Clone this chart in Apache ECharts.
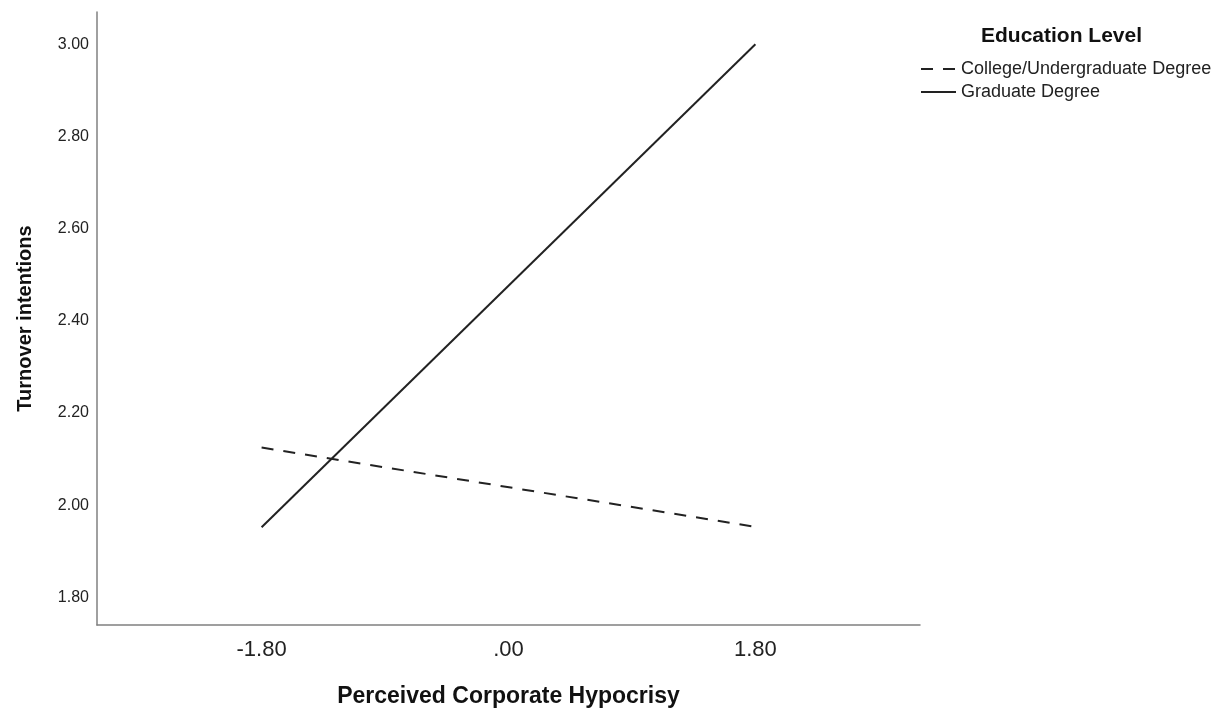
<!DOCTYPE html>
<html>
<head>
<meta charset="utf-8">
<title>Turnover intentions</title>
<script src="https://cdn.jsdelivr.net/npm/echarts@6/dist/echarts.min.js"></script>
<style>
	html, body { margin: 0; padding: 0; background: #fff; }
	#chart { width: 1224px; height: 710px; }
</style>
</head>
<body>
<div id="chart"></div>
<script>
// x positions (perceived corporate hypocrisy, -1 SD / mean / +1 SD)
var xTicks = [-1.8, 0, 1.8];
var xTickLabels = ['-1.80', '.00', '1.80'];
var yTicks = [1.8, 2.0, 2.2, 2.4, 2.6, 2.8, 3.0];

var lineX = [-1.8, 1.8];
var collegeVals = [2.125, 1.953]; // College/Undergraduate Degree
var graduateVals = [1.952, 3.0]; // Graduate Degree

var FONT = 'Liberation Sans, Arial, sans-serif';

function pairs(xs, ys) {
	var out = [];
	for (var i = 0; i < xs.length; i++) {
		out.push([xs[i], ys[i]]);
	}
	return out;
}

var chart = echarts.init(document.getElementById('chart'));
var option = {
	animation: false,
	backgroundColor: '#fff',
	title: {
		text: 'Education Level',
		left: 976,
		top: 21,
		textStyle: { fontFamily: FONT, fontSize: 21, fontWeight: 'bold', color: '#111' }
	},
	legend: {
		orient: 'vertical',
		left: 915,
		top: 55,
		itemWidth: 35,
		itemHeight: 14,
		itemGap: 5,
		itemStyle: { opacity: 0 },
		textStyle: { fontFamily: FONT, fontSize: 18, color: '#222' },
		data: ['College/Undergraduate Degree', 'Graduate Degree']
	},
	grid: { left: 97, right: 304, top: 12, bottom: 85, outerBoundsMode: 'none' },
	xAxis: {
		type: 'value',
		min: -3,
		max: 3,
		name: 'Perceived Corporate Hypocrisy',
		nameLocation: 'middle',
		nameGap: 60,
		nameTextStyle: { fontFamily: FONT, fontSize: 23, fontWeight: 'bold', color: '#111' },
		axisLine: { onZero: false, lineStyle: { color: '#808080', width: 1.5 } },
		axisTick: { show: false },
		splitLine: { show: false },
		axisLabel: {
			customValues: xTicks,
			margin: 14,
			fontFamily: FONT,
			fontSize: 22,
			color: '#222',
			formatter: function(v) {
				var i = xTicks.indexOf(v);
				return i >= 0 ? xTickLabels[i] : '';
			}
		}
	},
	yAxis: {
		type: 'value',
		min: 1.74,
		max: 3.07,
		name: 'Turnover intentions',
		nameLocation: 'middle',
		nameGap: 62,
		nameTextStyle: { fontFamily: FONT, fontSize: 20, fontWeight: 'bold', color: '#111' },
		axisLine: { show: true, onZero: false, lineStyle: { color: '#808080', width: 1.5 } },
		axisTick: { show: false },
		splitLine: { show: false },
		axisLabel: {
			customValues: yTicks,
			margin: 8,
			fontFamily: FONT,
			fontSize: 16,
			color: '#222',
			formatter: function(v) { return v.toFixed(2); }
		}
	},
	series: [{
		name: 'College/Undergraduate Degree',
		type: 'line',
		showSymbol: false,
		symbol: 'none',
		lineStyle: { color: '#222', width: 2, type: [12, 10] },
		itemStyle: { color: '#222' },
		data: pairs(lineX, collegeVals)
	}, {
		name: 'Graduate Degree',
		type: 'line',
		showSymbol: false,
		symbol: 'none',
		lineStyle: { color: '#222', width: 2 },
		itemStyle: { color: '#222' },
		data: pairs(lineX, graduateVals)
	}]
};
chart.setOption(option);
</script>
</body>
</html>
